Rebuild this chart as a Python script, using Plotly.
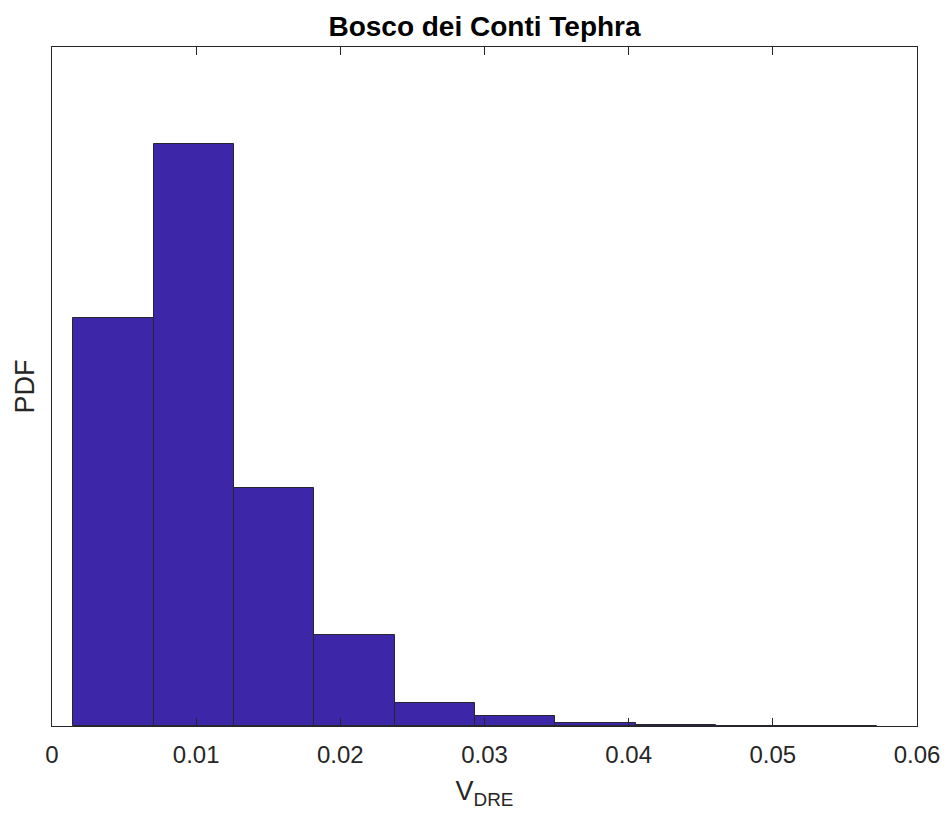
import plotly.graph_objects as go

# Histogram (PDF-normalised) of dense-rock-equivalent volume
bin_start = 0.00148
bin_width = 0.005572
pdf_values = [54.1, 77.2, 31.5, 12.1, 3.1, 1.26, 0.37, 0.08, 0.04, 0.02]

tick_vals = [0, 0.01, 0.02, 0.03, 0.04, 0.05, 0.06]
tick_text = ["0", "0.01", "0.02", "0.03", "0.04", "0.05", "0.06"]

centers = [bin_start + bin_width * (i + 0.5) for i in range(len(pdf_values))]

AX = "#262626"
FONT = "Liberation Sans, Arial, Helvetica, sans-serif"

fig = go.Figure()
fig.add_trace(go.Bar(
    x=centers,
    y=pdf_values,
    width=[bin_width] * len(pdf_values),
    marker=dict(color="#3D26A8", line=dict(color="#262633", width=1)),
    showlegend=False,
    hoverinfo="x+y",
))

fig.update_layout(
    width=952, height=828,
    margin=dict(l=52, r=33, t=47, b=102, pad=0),
    paper_bgcolor="white",
    plot_bgcolor="white",
    bargap=0,
    font=dict(family=FONT, color=AX),
    title=dict(
        text="<b>Bosco dei Conti Tephra</b>",
        x=0.5, xref="paper", xanchor="center",
        y=0.968, yref="container", yanchor="middle",
        font=dict(size=28, color="#000000", family=FONT),
    ),
    xaxis=dict(
        range=[0, 0.06],
        tickvals=tick_vals, ticktext=tick_text,
        ticks="inside", ticklen=8, tickwidth=1, tickcolor=AX,
        ticklabelstandoff=7,
        showline=True, linecolor=AX, linewidth=1, mirror="ticks",
        showgrid=False, zeroline=False,
        tickfont=dict(size=24, color=AX),
        title=dict(text="V<sub>DRE</sub>", font=dict(size=27, color=AX), standoff=14),
    ),
    yaxis=dict(
        range=[0, 90],
        showticklabels=False, ticks="",
        showline=True, linecolor=AX, linewidth=1, mirror=True,
        showgrid=False, zeroline=False,
        title=dict(text="PDF", font=dict(size=27, color=AX), standoff=8),
    ),
)

fig.write_html("out.html")
